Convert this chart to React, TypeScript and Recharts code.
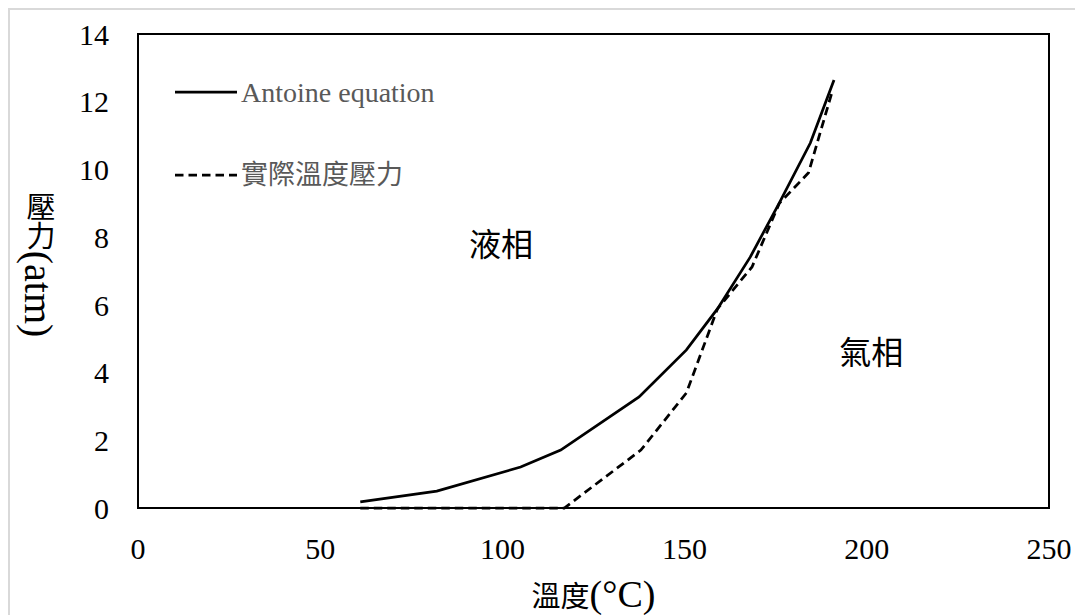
import React from "react";
import {
  LineChart,
  Line,
  XAxis,
  YAxis,
  Legend,
  ReferenceArea,
  ReferenceDot,
} from "recharts";

// 溫度 (°C) / 壓力 (atm)
const antoineT = [61, 82, 105, 116, 137.5, 150.5, 159, 168, 176, 184.5, 191];
const antoineP = [0.18, 0.5, 1.21, 1.71, 3.28, 4.67, 5.88, 7.41, 9.01, 10.78, 12.64];

const actualT = [61, 117, 138, 150.5, 159, 168.5, 176, 184, 190.5];
const actualP = [0, 0, 1.71, 3.4, 5.88, 7.12, 9.0, 9.9, 12.3];

const xTicks = [0, 50, 100, 150, 200, 250];
const yTicks = [0, 2, 4, 6, 8, 10, 12, 14];

const phaseLabels = ["液相", "氣相"];
const phaseT = [99.6, 201.2];
const phaseP = [7.77, 4.6];

const antoineData = antoineT.map((t, i) => ({ t, p: antoineP[i] }));
const actualData = actualT.map((t, i) => ({ t, p: actualP[i] }));

const FONT = '"Liberation Serif", "Noto Sans CJK TC", serif';
const DASH = "8.5 5";

const renderLegend = (props: any) => {
  const { payload = [] } = props;
  return (
    <svg width={320} height={150} style={{ display: "block" }}>
      {payload.map((entry: any, i: number) => {
        const y = 32 + i * 83;
        const dash = entry.payload?.strokeDasharray;
        return (
          <g key={i}>
            <line x1={0} x2={62} y1={y} y2={y} stroke="#000" strokeWidth={2.75} strokeDasharray={dash} />
            <text x={66} y={y} dy="0.35em" style={{ fontFamily: FONT }} fontSize={i === 0 ? 28 : 27} fill="#595959">
              {entry.value}
            </text>
          </g>
        );
      })}
    </svg>
  );
};

const renderXTick = (props: any) => (
  <text
    key={props.index}
    x={props.x}
    y={props.y}
    dy="0.71em"
    textAnchor="middle"
    style={{ fontFamily: FONT, fontSize: 30 }}
    fill="#000"
  >
    {props.payload.value}
  </text>
);

const renderYTick = (props: any) => (
  <text
    key={props.index}
    x={props.x}
    y={props.y}
    dy="0.355em"
    textAnchor="end"
    style={{ fontFamily: FONT, fontSize: 30 }}
    fill="#000"
  >
    {props.payload.value}
  </text>
);

const YTitle = (props: any) => {
  const vb = props.viewBox || { y: 24, height: 474 };
  return (
    <text
      x={28}
      y={vb.y + vb.height / 2 - 6}
      textAnchor="middle"
      fill="#000"
      style={{ writingMode: "vertical-rl", fontFamily: FONT, fontSize: 29 } as any}
    >
      壓力<tspan style={{ fontSize: 40 }}>(atm)</tspan>
    </text>
  );
};

const XTitle = (props: any) => {
  const vb = props.viewBox || { x: 128, y: 498, width: 911 };
  return (
    <text
      x={vb.x + vb.width / 2}
      y={vb.y + 89}
      dy="0.35em"
      textAnchor="middle"
      fill="#000"
      style={{ fontFamily: FONT, fontSize: 29 }}
    >
      溫度<tspan style={{ fontSize: 38 }}>(°C)</tspan>
    </text>
  );
};

export default function App() {
  return (
    <div
      style={{
        width: 1073,
        height: 605,
        borderLeft: "2px solid #d9d9d9",
        borderTop: "2px solid #d9d9d9",
        background: "#fff",
      }}
    >
      <LineChart width={1073} height={605} margin={{ top: 24, right: 34, bottom: 0, left: 0 }}>
        <XAxis
          dataKey="t"
          type="number"
          domain={[0, 250]}
          ticks={xTicks}
          allowDuplicatedCategory={false}
          axisLine={false}
          tickLine={false}
          tickSize={0}
          tickMargin={30}
          height={107}
          tick={renderXTick}
          label={<XTitle />}
        />
        <YAxis
          dataKey="p"
          type="number"
          domain={[0, 14]}
          ticks={yTicks}
          axisLine={false}
          tickLine={false}
          tickSize={0}
          tickMargin={29}
          width={128}
          tick={renderYTick}
          label={<YTitle />}
        />
        <ReferenceArea x1={0} x2={250} y1={0} y2={14} fill="none" stroke="#000" strokeWidth={2} />
        {phaseLabels.map((txt, i) => (
          <ReferenceDot
            key={txt}
            x={phaseT[i]}
            y={phaseP[i]}
            r={0}
            fill="none"
            stroke="none"
            label={{
              value: txt,
              position: "center",
              style: { fontFamily: FONT, fontSize: 32 },
              fill: "#000",
            }}
          />
        ))}
        <Legend
          layout="horizontal"
          verticalAlign="middle"
          align="center"
          content={renderLegend}
          wrapperStyle={{ left: 165, top: 50, width: 320, height: 150 }}
        />
        <Line
          data={antoineData}
          dataKey="p"
          name="Antoine equation"
          type="linear"
          stroke="#000"
          strokeWidth={2.75}
          dot={false}
          activeDot={false}
          isAnimationActive={false}
        />
        <Line
          data={actualData}
          dataKey="p"
          name="實際溫度壓力"
          type="linear"
          stroke="#000"
          strokeWidth={2.75}
          strokeDasharray={DASH}
          dot={false}
          activeDot={false}
          isAnimationActive={false}
        />
      </LineChart>
    </div>
  );
}
